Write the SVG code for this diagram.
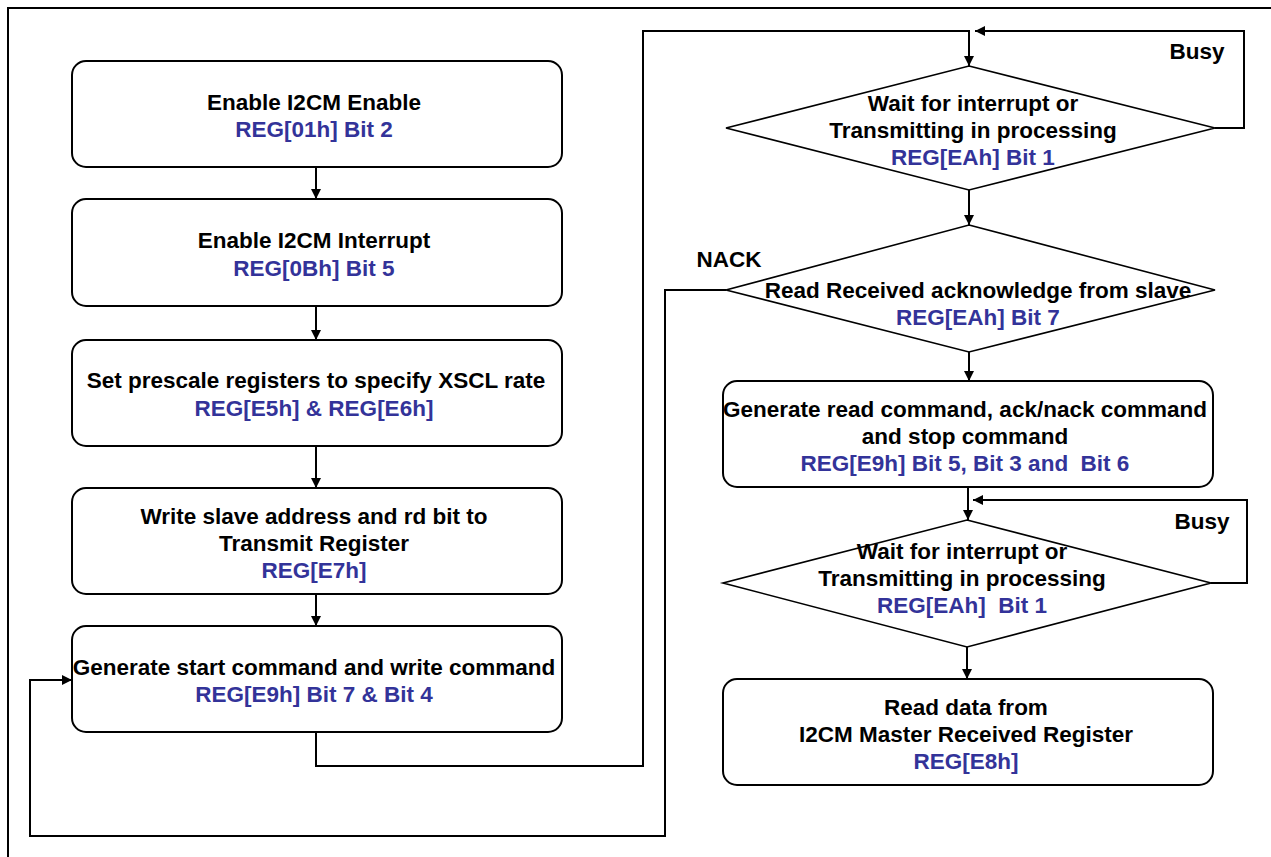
<svg xmlns="http://www.w3.org/2000/svg" width="1271" height="857" viewBox="0 0 1271 857">
<style>
.box{fill:#fff;stroke:#000;stroke-width:2}
.dia{fill:#fff;stroke:#000;stroke-width:1.6}
.ln{fill:none;stroke:#000;stroke-width:2}
text{font-family:"Liberation Sans",Arial,sans-serif;font-weight:bold;font-size:22.5px;text-anchor:middle}
.k{fill:#000}
.b{fill:#333399}
</style>
<defs>
<marker id="ah" viewBox="0 0 10 10" refX="10" refY="5" markerWidth="6" markerHeight="5" orient="auto" markerUnits="strokeWidth">
<path d="M0,0 L10,5 L0,10 z" fill="#000"/>
</marker>
</defs>
<rect width="1271" height="857" fill="#fff"/>
<path class="ln" d="M8,857 V8 H1271"/>
<g id="connectors">
<path class="ln" marker-end="url(#ah)" d="M316,167 V199"/>
<path class="ln" marker-end="url(#ah)" d="M316,306 V340"/>
<path class="ln" marker-end="url(#ah)" d="M316,446 V488"/>
<path class="ln" marker-end="url(#ah)" d="M316,594 V626"/>
<path class="ln" marker-end="url(#ah)" d="M316,732 V766 H643 V31 H969 V66"/>
<path class="ln" marker-end="url(#ah)" d="M1215,128 H1244 V31 H975"/>
<path class="ln" marker-end="url(#ah)" d="M969,190 V225"/>
<path class="ln" marker-end="url(#ah)" d="M726,290 H665 V836 H30 V680 H72"/>
<path class="ln" marker-end="url(#ah)" d="M969,352 V381"/>
<path class="ln" marker-end="url(#ah)" d="M968,487 V520"/>
<path class="ln" marker-end="url(#ah)" d="M1211,583 H1247 V500 H973"/>
<path class="ln" marker-end="url(#ah)" d="M967,647 V679"/>
<text class="k" x="1197" y="59">Busy</text>
<text class="k" x="1202" y="529">Busy</text>
<text class="k" x="729" y="267">NACK</text>
</g>
<g id="n1">
<rect class="box" x="72" y="61" width="490" height="106" rx="14"/>
<text class="k" x="314" y="110">Enable I2CM Enable</text>
<text class="b" x="314" y="137">REG[01h] Bit 2</text>
</g>
<g id="n2">
<rect class="box" x="72" y="199" width="490" height="107" rx="14"/>
<text class="k" x="314" y="248">Enable I2CM Interrupt</text>
<text class="b" x="314" y="276">REG[0Bh] Bit 5</text>
</g>
<g id="n3">
<rect class="box" x="72" y="340" width="490" height="106" rx="14"/>
<text class="k" x="316" y="388">Set prescale registers to specify XSCL rate</text>
<text class="b" x="314" y="416">REG[E5h] &amp; REG[E6h]</text>
</g>
<g id="n4">
<rect class="box" x="72" y="488" width="490" height="106" rx="14"/>
<text class="k" x="314" y="524">Write slave address and rd bit to</text>
<text class="k" x="314" y="551">Transmit Register</text>
<text class="b" x="314" y="578">REG[E7h]</text>
</g>
<g id="n5">
<rect class="box" x="72" y="626" width="490" height="106" rx="14"/>
<text class="k" x="314" y="675">Generate start command and write command</text>
<text class="b" x="314" y="702">REG[E9h] Bit 7 &amp; Bit 4</text>
</g>
<g id="d1">
<polygon class="dia" points="969,66 1215,128 969,190 726,128"/>
<text class="k" x="973" y="111">Wait for interrupt or</text>
<text class="k" x="973" y="138">Transmitting in processing</text>
<text class="b" x="973" y="165">REG[EAh] Bit 1</text>
</g>
<g id="d2">
<polygon class="dia" points="969,225 1215,290 969,352 726,290"/>
<text class="k" x="978" y="298">Read Received acknowledge from slave</text>
<text class="b" x="978" y="325">REG[EAh] Bit 7</text>
</g>
<g id="n6">
<rect class="box" x="723" y="381" width="490" height="106" rx="14"/>
<text class="k" x="965" y="417">Generate read command, ack/nack command</text>
<text class="k" x="965" y="444">and stop command</text>
<text class="b" x="965" y="471" xml:space="preserve">REG[E9h] Bit 5, Bit 3 and  Bit 6</text>
</g>
<g id="d3">
<polygon class="dia" points="967,520 1211,583 967,647 723,583"/>
<text class="k" x="962" y="559">Wait for interrupt or</text>
<text class="k" x="962" y="586">Transmitting in processing</text>
<text class="b" x="962" y="613" xml:space="preserve">REG[EAh]  Bit 1</text>
</g>
<g id="n7">
<rect class="box" x="723" y="679" width="490" height="106" rx="14"/>
<text class="k" x="966" y="715">Read data from</text>
<text class="k" x="966" y="742">I2CM Master Received Register</text>
<text class="b" x="966" y="769">REG[E8h]</text>
</g>
</svg>
